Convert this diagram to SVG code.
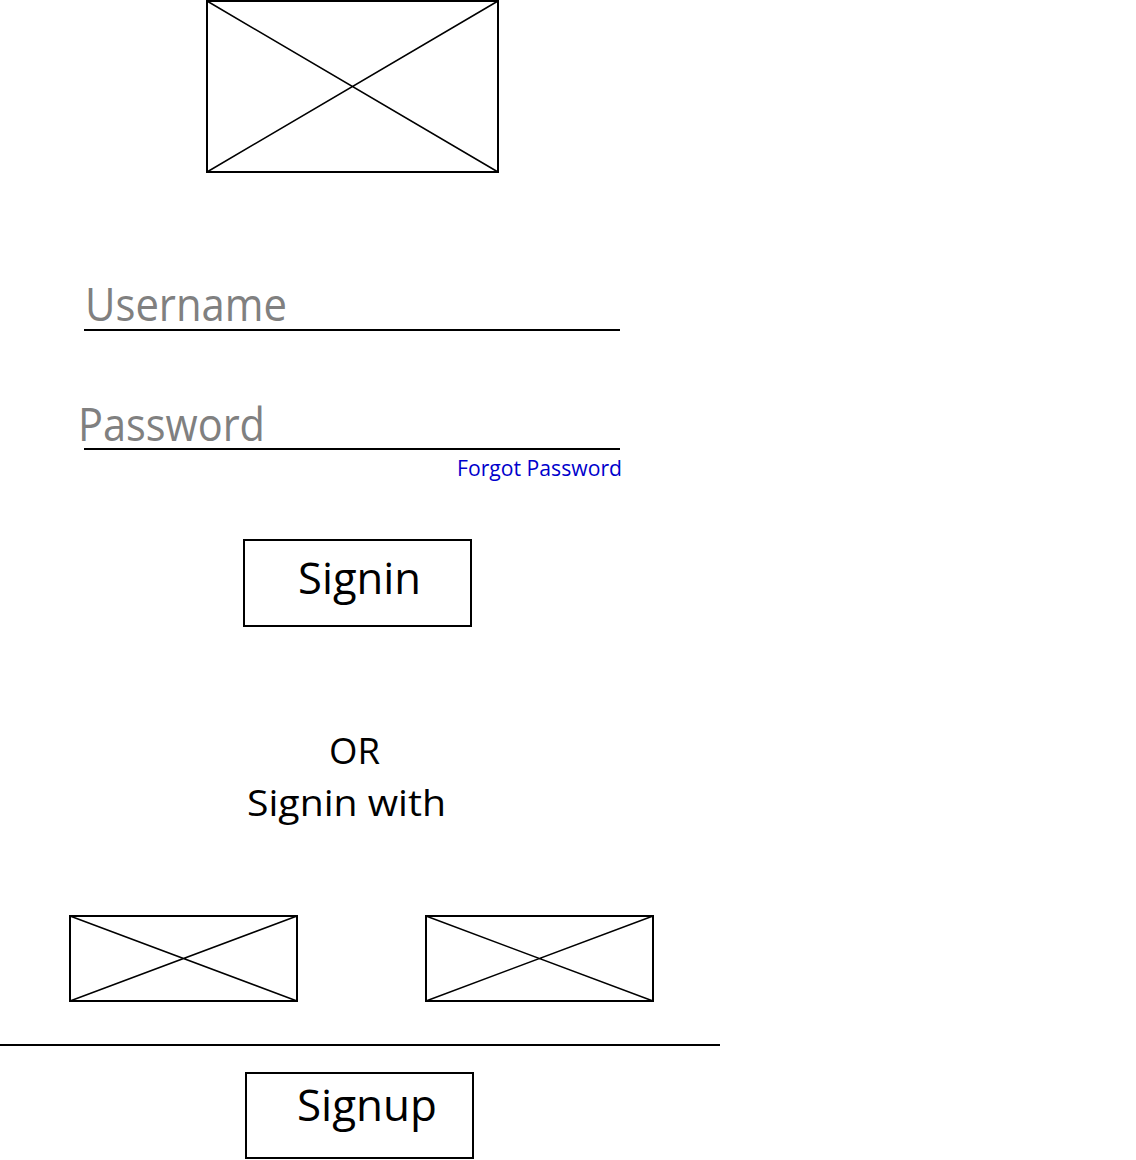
<svg xmlns="http://www.w3.org/2000/svg" width="1136" height="1160" viewBox="0 0 1136 1160">
<style>
.box{fill:#fff;stroke:#000;stroke-width:2}
.x{stroke:#000;stroke-width:1.5;fill:none}
.ln{stroke:#000;stroke-width:2}
text{font-family:"Open Sans","Noto Sans","Liberation Sans",sans-serif}
.ph{fill:#808080;font-size:46px}
.lbl{fill:#000;font-size:44px}
.mid{fill:#000;font-size:37px}
</style>
<rect width="1136" height="1160" fill="#fff"/>
<g id="logo">
<rect class="box" x="207" y="1" width="291" height="171"/>
<path class="x" d="M207 1 L498 172 M498 1 L207 172"/>
</g>
<g id="username">
<text class="ph" x="85" y="321" textLength="202" lengthAdjust="spacingAndGlyphs">Username</text>
<line class="ln" x1="84" y1="330" x2="620" y2="330"/>
</g>
<g id="password">
<text class="ph" x="78" y="441" textLength="187" lengthAdjust="spacingAndGlyphs">Password</text>
<line class="ln" x1="84" y1="449" x2="620" y2="449"/>
</g>
<g id="forgot">
<text x="457" y="476" font-size="22" fill="#0000cc" textLength="165" lengthAdjust="spacingAndGlyphs">Forgot Password</text>
</g>
<g id="signin">
<rect class="box" x="244" y="540" width="227" height="86"/>
<text class="lbl" x="298" y="594" textLength="123" lengthAdjust="spacingAndGlyphs">Signin</text>
</g>
<g id="or">
<text class="mid" x="329" y="764" textLength="51" lengthAdjust="spacingAndGlyphs">OR</text>
<text class="mid" x="247" y="816" textLength="199" lengthAdjust="spacingAndGlyphs">Signin with</text>
</g>
<g id="social1">
<rect class="box" x="70" y="916" width="227" height="85"/>
<path class="x" d="M70 916 L297 1001 M297 916 L70 1001"/>
</g>
<g id="social2">
<rect class="box" x="426" y="916" width="227" height="85"/>
<path class="x" d="M426 916 L653 1001 M653 916 L426 1001"/>
</g>
<g id="connectors">
<line class="ln" x1="0" y1="1045" x2="720" y2="1045"/>
</g>
<g id="signup">
<rect class="box" x="246" y="1073" width="227" height="85"/>
<text class="lbl" x="297" y="1121" textLength="140" lengthAdjust="spacingAndGlyphs">Signup</text>
</g>
</svg>
